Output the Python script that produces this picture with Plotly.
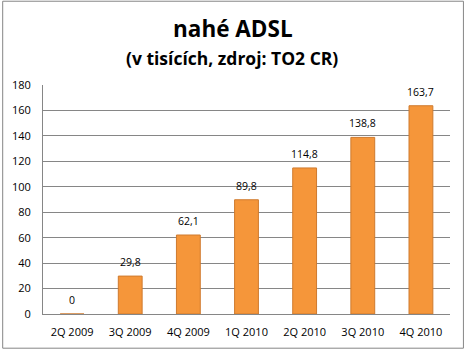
import plotly.graph_objects as go

categories = ["2Q 2009", "3Q 2009", "4Q 2009", "1Q 2010", "2Q 2010", "3Q 2010", "4Q 2010"]
values = [0, 29.8, 62.1, 89.8, 114.8, 138.8, 163.7]
labels = ["0", "29,8", "62,1", "89,8", "114,8", "138,8", "163,7"]
title_text = "<b>nahé ADSL</b>"
subtitle_text = "<b>(v tisících, zdroj: TO2 CR)</b>"

W, H = 464, 351
ml, mr, mt, mb = 41, 14, 85, 35
pw, ph = W - ml - mr, H - mt - mb
FONT = "Open Sans, Arial"

fig = go.Figure()
fig.add_trace(go.Bar(
    x=categories, y=values,
    marker=dict(color="#F5963A", line=dict(color="#CF7A2E", width=1)),
    width=0.41,
))

annotations = [
    dict(text=title_text, xref="paper", yref="paper", x=(232 - ml) / pw, y=(H - 28 - mb) / ph,
         xanchor="center", yanchor="middle", showarrow=False,
         font=dict(family=FONT, size=22.5, color="#000000")),
    dict(text=subtitle_text, xref="paper", yref="paper", x=(231 - ml) / pw, y=(H - 58 - mb) / ph,
         xanchor="center", yanchor="middle", showarrow=False,
         font=dict(family=FONT, size=17.5, color="#000000")),
]
for c, v, t in zip(categories, values, labels):
    annotations.append(dict(text=t, x=c, y=v, xref="x", yref="y", showarrow=False,
                            xanchor="center", yanchor="middle", yshift=14,
                            font=dict(family=FONT, size=10.5, color="#000000")))

fig.update_layout(
    width=W, height=H,
    margin=dict(l=ml, r=mr, t=mt, b=mb),
    paper_bgcolor="white", plot_bgcolor="white",
    showlegend=False,
    font=dict(family=FONT, size=11, color="#000000"),
    xaxis=dict(showgrid=False, showline=True, linecolor="#868686", linewidth=1,
               ticks="", ticklabelstandoff=8, tickfont=dict(size=11, color="#000000")),
    yaxis=dict(range=[0, 180], dtick=20, showgrid=True, gridcolor="#868686", gridwidth=1,
               showline=True, linecolor="#868686", linewidth=1, ticks="", ticklabelstandoff=9,
               tickfont=dict(size=11, color="#000000"), zeroline=False),
    annotations=annotations,
    shapes=[dict(type="rect", xref="paper", yref="paper",
                 x0=(0.5 - ml) / pw, x1=(W - 0.5 - ml) / pw,
                 y0=(0.5 - mb) / ph, y1=(H - 0.5 - mb) / ph,
                 line=dict(color="#868686", width=1))],
    bargap=0.59,
)

fig.write_html("out.html")
